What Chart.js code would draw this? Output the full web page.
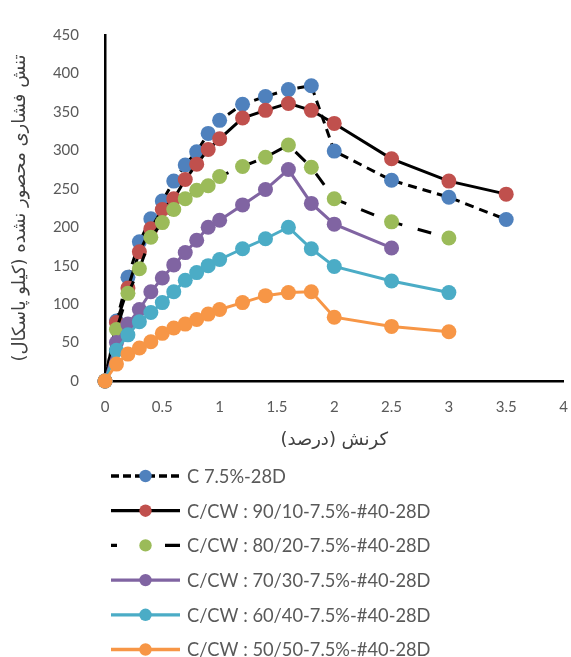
<!DOCTYPE html>
<html>
<head>
<meta charset="utf-8">
<script src="https://cdn.jsdelivr.net/npm/chart.js@4/dist/chart.umd.min.js"></script>
<style>
  html, body { margin: 0; padding: 0; background: #fff; }
  canvas { display: block; }
</style>
</head>
<body>
<canvas id="c" width="571" height="657"></canvas>
<script>
// ---- Data ----
const strain = [0, 0.1, 0.2, 0.3, 0.4, 0.5, 0.6, 0.7, 0.8, 0.9, 1.0, 1.2, 1.4, 1.6, 1.8, 2.0, 2.5, 3.0, 3.5];

const seriesNames = [
  'C 7.5%-28D',
  'C/CW : 90/10-7.5%-#40-28D',
  'C/CW : 80/20-7.5%-#40-28D',
  'C/CW : 70/30-7.5%-#40-28D',
  'C/CW : 60/40-7.5%-#40-28D',
  'C/CW : 50/50-7.5%-#40-28D'
];

const c75    = [0, 78, 135, 181, 211, 234, 260, 281, 298, 322, 339, 360, 370, 379, 384, 299, 261, 239, 210];
const cw9010 = [0, 76, 121, 168, 198, 223, 237, 262, 282, 301, 315, 342, 352, 361, 352, 335, 289, 260, 243];
const cw8020 = [0, 67, 114, 146, 187, 206, 223, 237, 248, 254, 266, 279, 291, 307, 278, 237, 207, 186];
const cw7030 = [0, 50, 74, 93, 116, 134, 151, 167, 183, 200, 209, 229, 249, 275, 231, 204, 173];
const cw6040 = [0, 40, 60, 77, 89, 102, 116, 131, 141, 150, 158, 172, 185, 200, 172, 149, 130, 115];
const cw5050 = [0, 22, 35, 43, 51, 62, 69, 74, 80, 87, 93, 102, 111, 115, 116, 83, 71, 64];

const xAxisTitle = 'کرنش (درصد)\u200F';
const yAxisTitle = 'تنش فشاری محصور نشده (کیلو پاسکال)\u200F';

// ---- Styles ----
const seriesValues = [c75, cw9010, cw8020, cw7030, cw6040, cw5050];
const markerColors = ['#4F81BD', '#C0504D', '#9BBB59', '#8064A2', '#4BACC6', '#F79646'];
const lineColors   = ['#000000', '#000000', '#000000', '#8064A2', '#4BACC6', '#F79646'];
const lineDashes   = [[9, 6], [], [14, 16], [], [], []];
const legendDashes = [[8, 4], [], [6, 48, 16, 100], [], [], []];

function toPoints(vals) {
  return vals.map((v, i) => ({ x: strain[i], y: v }));
}

const datasets = seriesValues.map((vals, i) => ({
  label: seriesNames[i],
  data: toPoints(vals),
  borderColor: lineColors[i],
  borderWidth: 3,
  borderDash: lineDashes[i],
  backgroundColor: markerColors[i],
  pointBackgroundColor: markerColors[i],
  pointBorderColor: markerColors[i],
  pointBorderWidth: 0,
  pointRadius: 7.5,
  pointHoverRadius: 7.5,
  tension: 0,
  fill: false,
  clip: false,
  order: seriesValues.length - i
}));

const legendPlugin = {
  id: 'customLegend',
  afterDraw(chart) {
    const ctx = chart.ctx;
    ctx.save();
    ctx.direction = 'ltr';
    chart.data.datasets.forEach((ds, i) => {
      const y = 476 + i * 34.7;
      ctx.beginPath();
      ctx.setLineDash(legendDashes[i]);
      ctx.strokeStyle = lineColors[i];
      ctx.lineWidth = 3.3;
      ctx.moveTo(111, y);
      ctx.lineTo(180, y);
      ctx.stroke();
      ctx.setLineDash([]);
      ctx.beginPath();
      ctx.fillStyle = markerColors[i];
      ctx.arc(145.5, y, 6.2, 0, Math.PI * 2);
      ctx.fill();
      ctx.fillStyle = '#595959';
      ctx.font = '18.3px Lato, "Liberation Sans", sans-serif';
      ctx.textAlign = 'left';
      ctx.textBaseline = 'middle';
      ctx.fillText(ds.label, 187, y + 1);
    });
    ctx.restore();
  }
};

new Chart(document.getElementById('c'), {
  type: 'line',
  data: { datasets },
  options: {
    responsive: false,
    animation: false,
    devicePixelRatio: 1,
    layout: { padding: { top: 23, right: 6, bottom: 206, left: 0 } },
    plugins: {
      legend: { display: false },
      tooltip: { enabled: false }
    },
    scales: {
      x: {
        type: 'linear',
        min: 0,
        max: 4,
        afterFit(scale) { scale.height = 70; scale.paddingRight = 0; scale.paddingLeft = 0; },
        ticks: {
          stepSize: 0.5,
          color: '#595959',
          font: { family: 'Lato, "Liberation Sans", sans-serif', size: 15 },
          padding: 17,
          maxRotation: 0,
          callback: (v) => String(v)
        },
        grid: { display: false, drawTicks: false },
        border: { display: true, color: '#000', width: 2.5 },
        title: {
          display: true,
          text: xAxisTitle,
          color: '#404040',
          font: { family: '"DejaVu Sans", sans-serif', size: 18 },
          padding: { top: 4, bottom: 0 }
        }
      },
      y: {
        type: 'linear',
        min: 0,
        max: 450,
        afterFit(scale) { scale.width = 105; },
        ticks: {
          stepSize: 50,
          color: '#595959',
          font: { family: 'Lato, "Liberation Sans", sans-serif', size: 15 },
          padding: 26
        },
        grid: { display: false, drawTicks: false },
        border: { display: true, color: '#000', width: 2.5 },
        title: {
          display: true,
          text: yAxisTitle,
          color: '#404040',
          font: { family: '"DejaVu Sans", sans-serif', size: 18 },
          padding: { top: 10, bottom: 0 }
        }
      }
    }
  },
  plugins: [legendPlugin]
});
</script>
</body>
</html>
